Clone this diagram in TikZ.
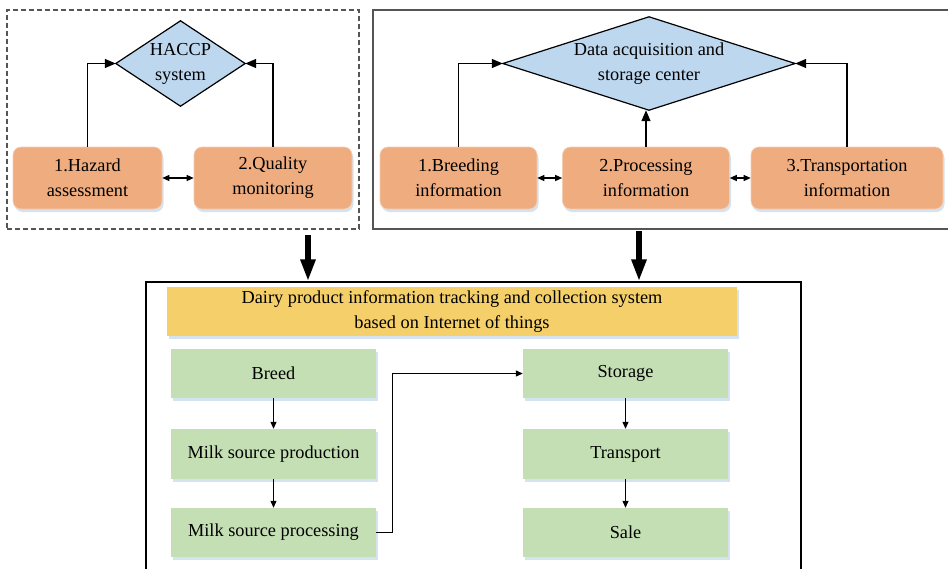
\documentclass[tikz,border=0pt]{standalone}
\usepackage{fontspec}
\setmainfont{Liberation Serif}
\usepackage{tikz}
\usetikzlibrary{arrows.meta, positioning, calc, shadows}

\definecolor{boxorange}{HTML}{EEAC7F}
\definecolor{orangeedge}{HTML}{F5CDB0}
\definecolor{diamondblue}{HTML}{BDD7EE}
\definecolor{boxgreen}{HTML}{C5DFB4}
\definecolor{banneryellow}{HTML}{F5D06A}
\definecolor{shadowblue}{HTML}{D5E2F0}
\definecolor{framegray}{HTML}{555555}

\begin{document}
\begin{tikzpicture}[
    x=1pt, y=-1pt,
    every node/.style={font=\fontsize{18.3}{25}\selectfont, align=center, inner sep=0pt},
    lightshadow/.style={drop shadow={shadow xshift=1.5pt, shadow yshift=-3pt, fill=shadowblue, opacity=1}},
    infobox/.style={rectangle, rounded corners=8pt, fill=boxorange, draw=orangeedge, line width=0.6pt, lightshadow, minimum height=62pt},
    stepbox/.style={rectangle, fill=boxgreen, lightshadow, minimum width=205pt, minimum height=49pt},
    diamondlabel/.style={rectangle},
    diamondfill/.style={fill=diamondblue, draw=black, line width=1.2pt, line join=miter},
    arrow/.style={-{Triangle[length=11pt, width=9pt]}, line width=1.2pt},
    dblarrow/.style={{Triangle[length=7pt, width=6pt]}-{Triangle[length=7pt, width=6pt]}, line width=1.2pt},
    steparrow/.style={-{Triangle[length=7pt, width=6pt]}, line width=1.2pt},
    bigarrow/.style={-{Triangle[length=22pt, width=14pt]}, line width=6pt}
]
\useasboundingbox (0,0) rectangle (948,568);

% === FRAMES ===
\node (leftframe) [draw=framegray, dash pattern=on 5pt off 3pt, line width=1.2pt, minimum width=352pt, minimum height=219pt] at (183,119.5) {};
\node (rightframe) [draw=framegray, line width=1.6pt, minimum width=576pt, minimum height=219pt] at (661,119.5) {};
\node (sysframe) [draw=black, line width=1.2pt, minimum width=655pt, minimum height=300pt] at (473.5,432) {};

% === HACCP PART ===
\node (haccp) [diamondlabel, minimum width=129pt, minimum height=85pt] at (180.5,63.5) {};
\draw[diamondfill] (haccp.west) -- (haccp.north) -- (haccp.east) -- (haccp.south) -- cycle;
\node (haccptext) at (haccp.center) {HACCP\\system};

\node (hazard) [infobox, minimum width=149pt] at (87.5,178) {1.Hazard\\assessment};
\node (quality) [infobox, minimum width=158pt] at (273,178) {2.Quality\\monitoring};

\draw[arrow] (hazard.north) |- (haccp.west);
\draw[arrow] (quality.north) |- (haccp.east);
\draw[dblarrow] (hazard) -- (quality);

% === DATA CENTER PART ===
\node (datacenter) [diamondlabel, minimum width=292pt, minimum height=93pt] at (649,63.5) {};
\draw[diamondfill] (datacenter.west) -- (datacenter.north) -- (datacenter.east) -- (datacenter.south) -- cycle;
\node (datatext) at (datacenter.center) {Data acquisition and\\storage center};

\node (breeding) [infobox, minimum width=157pt] at (458.5,178) {1.Breeding\\information};
\node (processing) [infobox, minimum width=167pt] at (646,178) {2.Processing\\information};
\node (transportation) [infobox, minimum width=192pt] at (847,178) {3.Transportation\\information};

\draw[arrow] (breeding.north) |- (datacenter.west);
\draw[arrow] (processing.north) -- (processing.north |- datacenter.south);
\draw[arrow] (transportation.north) |- (datacenter.east);
\draw[dblarrow] (breeding) -- (processing);
\draw[dblarrow] (processing) -- (transportation);

% === BIG ARROWS ===
\coordinate (leftdrop) at (308,235);
\coordinate (rightdrop) at (639,231);
\draw[bigarrow] (leftdrop) -- (leftdrop |- sysframe.north);
\draw[bigarrow] (rightdrop) -- (rightdrop |- sysframe.north);

% === TRACKING SYSTEM ===
\node (banner) [fill=banneryellow, lightshadow, minimum width=570pt, minimum height=49pt] at (452,311.5) {Dairy product information tracking and collection system\\based on Internet of things};

\node (breed) [stepbox] at (273.5,373.5) {Breed};
\node (production) [stepbox, minimum height=50pt] at (273.5,454) {Milk source production};
\node (milkproc) [stepbox] at (273.5,532.5) {Milk source processing};
\node (storage) [stepbox] at (625.5,373.5) {Storage};
\node (transport) [stepbox, minimum height=50pt] at (625.5,454) {Transport};
\node (sale) [stepbox] at (625.5,532.5) {Sale};

\draw[steparrow] (breed) -- (production);
\draw[steparrow] (production) -- (milkproc);
\draw[steparrow] (milkproc.east) -- ++(16,0) |- (storage.west);
\draw[steparrow] (storage) -- (transport);
\draw[steparrow] (transport) -- (sale);

\end{tikzpicture}
\end{document}
